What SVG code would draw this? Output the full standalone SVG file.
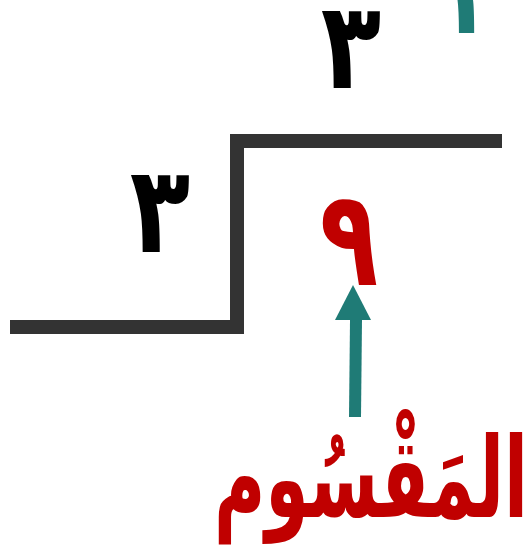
<svg xmlns="http://www.w3.org/2000/svg" width="529" height="548" viewBox="0 0 529 548">
<style>
.d{font-family:"DejaVu Sans",sans-serif;font-weight:bold;text-anchor:middle}
</style>
<rect width="529" height="548" fill="#fff"/>
<g id="bracket"><path d="M10,327 H237 V141 H502" fill="none" stroke="#333" stroke-width="14"/></g>
<g id="quotient"><text class="d" font-size="110" fill="#000" transform="translate(351,88) scale(0.9,1.1)">٣</text></g>
<g id="quotient2"><text class="d" font-size="110" fill="#1f7b76" transform="translate(463,33) scale(0.8,1)">١</text></g>
<g id="divisor"><text class="d" font-size="110" fill="#000" transform="translate(160,252) scale(0.9,1.1)">٣</text></g>
<g id="dividend"><text class="d" font-size="110" fill="#c00000" transform="translate(349,285) scale(0.87,1.22)">٩</text></g>
<g id="connectors"><path d="M355,417 L356,320" stroke="#1f7b76" stroke-width="12" fill="none"/><path d="M353,285 L371,320 L335,320 Z" fill="#1f7b76"/></g>
<g id="label"><text class="d" font-size="100" fill="#c00000" transform="translate(371,517) scale(0.7,1.12)">المَقْسُوم</text></g>
</svg>
